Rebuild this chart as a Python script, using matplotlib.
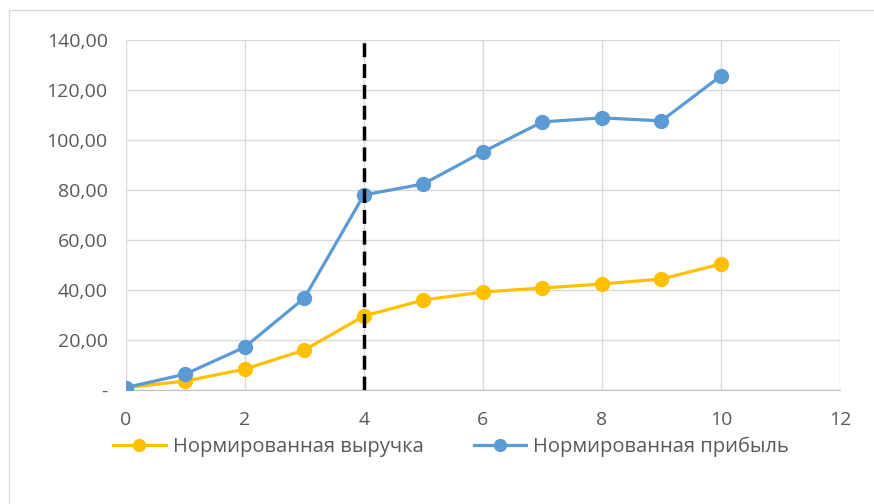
import matplotlib.pyplot as plt
from matplotlib.ticker import FuncFormatter, MultipleLocator

# Данные
x = [0, 1, 2, 3, 4, 5, 6, 7, 8, 9, 10]
revenue = [1.0, 3.6, 8.4, 16.0, 29.6, 36.0, 39.2, 40.8, 42.4, 44.4, 50.4]
profit = [1.0, 6.4, 17.2, 36.8, 78.0, 82.4, 95.2, 107.2, 108.8, 107.6, 125.6]
split_x = 4

plt.rcParams['font.family'] = ['Open Sans', 'DejaVu Sans']

fig = plt.figure(figsize=(8.74, 5.04), dpi=100)
ax = fig.add_axes([0.144, 0.226, 0.817, 0.695])

ax.plot(x, revenue, color='#FFC000', lw=2.3, marker='o', ms=10,
        label='Нормированная выручка', zorder=3)
ax.plot(x, profit, color='#5B9BD5', lw=2.3, marker='o', ms=10,
        label='Нормированная прибыль', zorder=4)
ax.axvline(split_x, color='black', lw=2.5, ls=(0, (4, 2)), zorder=5)

ax.set_xlim(0, 12)
ax.set_ylim(0, 140)
ax.xaxis.set_major_locator(MultipleLocator(2))
ax.yaxis.set_major_locator(MultipleLocator(20))
ax.yaxis.set_major_formatter(FuncFormatter(
    lambda v, p: '-' if v == 0 else f'{v:.2f}'.replace('.', ',')))

ax.grid(True, color='#D9D9D9', lw=1)
ax.set_axisbelow(True)
for s in ['top', 'right', 'left']:
    ax.spines[s].set_visible(False)
ax.spines['bottom'].set_color('#BFBFBF')
ax.tick_params(length=0, colors='#595959', labelsize=14)
ax.tick_params(axis='x', pad=15)
ax.tick_params(axis='y', pad=13)

fig.legend(loc='center', bbox_to_anchor=(0.516, 0.114), ncol=2,
           frameon=False, fontsize=14.5, labelcolor='#595959',
           handlelength=2.6, handletextpad=0.35, columnspacing=2.5,
           markerscale=0.85)

# рамка вокруг диаграммы
fig.patches.append(plt.Rectangle((0.0103, -0.02), 1.0, 1.0, transform=fig.transFigure,
                                 fill=False, edgecolor='#D9D9D9', lw=1))

fig.savefig('out.png', dpi=100)
